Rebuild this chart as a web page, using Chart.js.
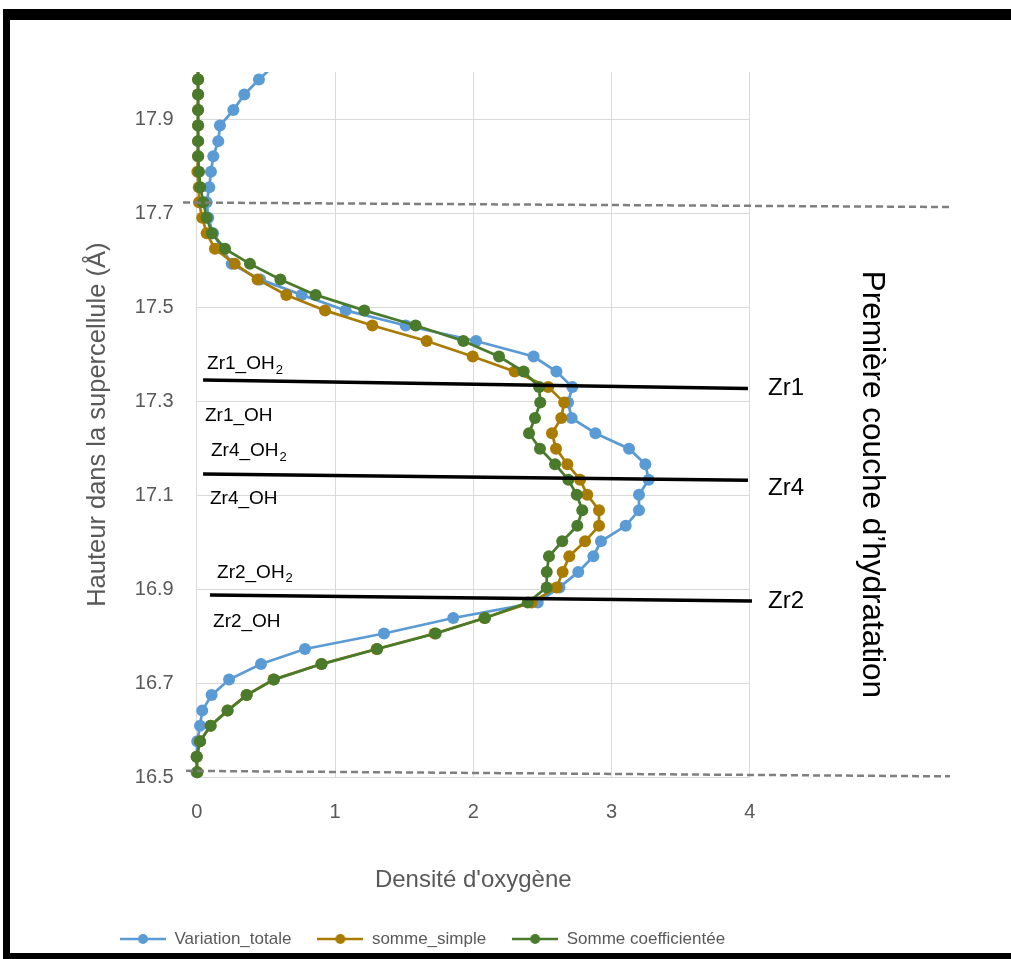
<!DOCTYPE html>
<html lang="fr">
<head>
<meta charset="utf-8">
<title>Densité d'oxygène</title>
<script src="https://cdn.jsdelivr.net/npm/chart.js@4.4.1/dist/chart.umd.min.js"></script>
<style>
  html, body { margin: 0; padding: 0; background: #fff; }
  #wrap { position: relative; width: 1011px; height: 959px; }
</style>
</head>
<body>
<div id="wrap"><canvas id="densityChart" width="1011" height="959"></canvas></div>
<script>
// heights (Å), one per bin, top to bottom
const hauteurs = [
  18.017, 17.984, 17.952, 17.919, 17.886, 17.853, 17.821, 17.788, 17.755, 17.723,
  17.690, 17.657, 17.624, 17.592, 17.559, 17.526, 17.493, 17.461, 17.428, 17.395,
  17.363, 17.330, 17.297, 17.264, 17.232, 17.199, 17.166, 17.133, 17.101, 17.068,
  17.035, 17.002, 16.970, 16.937, 16.904, 16.872, 16.839, 16.806, 16.773, 16.741,
  16.708, 16.675, 16.642, 16.610, 16.577, 16.544, 16.511
];

const variationTotale = [
  0.57, 0.45, 0.344, 0.265, 0.168, 0.156, 0.12, 0.103, 0.091, 0.072,
  0.084, 0.118, 0.183, 0.253, 0.458, 0.759, 1.077, 1.511, 2.02, 2.436,
  2.601, 2.716, 2.685, 2.711, 2.883, 3.126, 3.244, 3.268, 3.198, 3.198,
  3.102, 2.923, 2.868, 2.759, 2.623, 2.466, 1.855, 1.354, 0.783, 0.465,
  0.234, 0.108, 0.04, 0.024, 0.004, 0.0, 0.0
];

const sommeSimple = [
  0.01, 0.01, 0.01, 0.01, 0.01, 0.01, 0.01, 0.005, 0.015, 0.017,
  0.04, 0.072, 0.132, 0.275, 0.44, 0.648, 0.928, 1.27, 1.663, 1.996,
  2.299, 2.542, 2.657, 2.636, 2.569, 2.598, 2.68, 2.772, 2.824, 2.909,
  2.909, 2.808, 2.694, 2.646, 2.603, 2.422, 2.08, 1.72, 1.30, 0.90,
  0.555, 0.36, 0.222, 0.1, 0.024, 0.0, 0.004
];

const sommeCoefficientee = [
  0.01, 0.01, 0.01, 0.01, 0.01, 0.01, 0.01, 0.017, 0.026, 0.048,
  0.072, 0.111, 0.205, 0.385, 0.605, 0.86, 1.212, 1.583, 1.928, 2.186,
  2.364, 2.476, 2.484, 2.446, 2.403, 2.482, 2.591, 2.687, 2.748, 2.788,
  2.752, 2.643, 2.547, 2.531, 2.531, 2.394, 2.085, 1.728, 1.306, 0.904,
  0.559, 0.362, 0.224, 0.101, 0.024, 0.0, 0.004
];

const yTicks = [16.5, 16.7, 16.9, 17.1, 17.3, 17.5, 17.7, 17.9];
const xTicks = [0, 1, 2, 3, 4];

const FONT = "'Liberation Sans', Arial, sans-serif";
const GREY = '#595959';

// annotations, in data units (density, height)
const lignesPointillees = [
  { x0: -0.099, y0: 17.7224, x1: 5.447, y1: 17.7129 },
  { x0: -0.077, y0: 16.5139, x1: 5.447, y1: 16.5022 }
];
const lignesZr = [
  { x0: 0.046, y0: 17.345, x1: 3.986, y1: 17.327 },
  { x0: 0.046, y0: 17.145, x1: 3.986, y1: 17.132 },
  { x0: 0.096, y0: 16.888, x1: 4.015, y1: 16.875 }
];
const etiquettesOH = [
  { texte: 'Zr1_OH', indice: '2', x: 0.075, y: 17.379 },
  { texte: 'Zr1_OH', indice: '', x: 0.060, y: 17.270 },
  { texte: 'Zr4_OH', indice: '2', x: 0.103, y: 17.194 },
  { texte: 'Zr4_OH', indice: '', x: 0.096, y: 17.092 },
  { texte: 'Zr2_OH', indice: '2', x: 0.147, y: 16.935 },
  { texte: 'Zr2_OH', indice: '', x: 0.118, y: 16.832 }
];
const etiquettesZr = [
  { texte: 'Zr1', x: 4.131, y: 17.328 },
  { texte: 'Zr4', x: 4.131, y: 17.115 },
  { texte: 'Zr2', x: 4.131, y: 16.875 }
];
const titreCouche = { texte: 'Première couche d\u2019hydratation', x: 4.88, y: 17.123 };

function toPoints(values) {
  return hauteurs.map((h, i) => ({ x: values[i], y: h }));
}

function makeIcon(color) {
  const c = document.createElement('canvas');
  c.width = 46;
  c.height = 12;
  const g = c.getContext('2d');
  g.strokeStyle = color;
  g.lineWidth = 2.5;
  g.beginPath();
  g.moveTo(0, 6);
  g.lineTo(46, 6);
  g.stroke();
  g.fillStyle = color;
  g.beginPath();
  g.arc(23, 6, 5, 0, Math.PI * 2);
  g.fill();
  return c;
}

function serie(label, values, color) {
  return {
    label: label,
    data: toPoints(values),
    showLine: true,
    borderColor: color,
    backgroundColor: color,
    borderWidth: 2.75,
    pointRadius: 6,
    pointBorderWidth: 0,
    pointBackgroundColor: color,
    tension: 0,
    clip: { left: 8, top: 0, right: 8, bottom: 8 }
  };
}

const annotationsPlugin = {
  id: 'annotations',
  afterDatasetsDraw(chart) {
    const { ctx, scales: { x, y } } = chart;
    const px = v => x.getPixelForValue(v);
    const py = v => y.getPixelForValue(v);
    ctx.save();

    ctx.strokeStyle = '#7f7f7f';
    ctx.lineWidth = 2.5;
    ctx.setLineDash([7, 4]);
    lignesPointillees.forEach(l => {
      ctx.beginPath();
      ctx.moveTo(px(l.x0), py(l.y0));
      ctx.lineTo(px(l.x1), py(l.y1));
      ctx.stroke();
    });

    ctx.setLineDash([]);
    ctx.strokeStyle = '#000';
    ctx.lineWidth = 3.5;
    lignesZr.forEach(l => {
      ctx.beginPath();
      ctx.moveTo(px(l.x0), py(l.y0));
      ctx.lineTo(px(l.x1), py(l.y1));
      ctx.stroke();
    });

    ctx.fillStyle = '#000';
    ctx.textBaseline = 'middle';
    ctx.textAlign = 'left';
    etiquettesOH.forEach(e => {
      ctx.font = '19px ' + FONT;
      ctx.fillText(e.texte, px(e.x), py(e.y));
      if (e.indice) {
        const w = ctx.measureText(e.texte).width;
        ctx.font = '13px ' + FONT;
        ctx.fillText(e.indice, px(e.x) + w + 1, py(e.y) + 6);
      }
    });

    ctx.font = '24px ' + FONT;
    etiquettesZr.forEach(e => {
      ctx.fillText(e.texte, px(e.x), py(e.y));
    });

    ctx.translate(px(titreCouche.x), py(titreCouche.y));
    ctx.rotate(Math.PI / 2);
    ctx.textAlign = 'center';
    ctx.font = '31.5px ' + FONT;
    ctx.fillText(titreCouche.texte, 0, 0);
    ctx.restore();
  }
};

const legendPosPlugin = {
  id: 'legendPos',
  afterLayout(chart) {
    chart.legend.left = 94;
    chart.legend.right = 1011;
  }
};

const cadrePlugin = {
  id: 'cadre',
  afterDraw(chart) {
    const ctx = chart.ctx;
    ctx.save();
    ctx.fillStyle = '#000';
    ctx.fillRect(3, 9, 1008, 11);
    ctx.fillRect(3, 9, 7, 950);
    ctx.fillRect(3, 953, 1008, 6);
    ctx.restore();
  }
};

Chart.defaults.font.family = FONT;
Chart.defaults.color = GREY;

const chart = new Chart(document.getElementById('densityChart').getContext('2d'), {
  type: 'scatter',
  data: {
    // drawn last-to-first, so green sits on top as in the original
    datasets: [
      serie('Somme coefficientée', sommeCoefficientee, '#4a7a2c'),
      serie('somme_simple', sommeSimple, '#a97b00'),
      serie('Variation_totale', variationTotale, '#5b9bd5')
    ]
  },
  options: {
    responsive: false,
    animation: false,
    events: [],
    layout: { padding: { left: 0, right: 261.1, top: 72, bottom: 1.5 } },
    scales: {
      x: {
        type: 'linear',
        min: 0,
        max: 4,
        afterBuildTicks: (scale) => { scale.ticks = xTicks.map(v => ({ value: v })); },
        afterFit: (scale) => { scale.height = 127.1; },
        ticks: { padding: 23, font: { size: 20 }, color: GREY },
        grid: { color: '#d9d9d9', drawTicks: false },
        border: { display: false },
        title: {
          display: true,
          text: "Densité d'oxygène",
          font: { size: 24 },
          color: GREY,
          padding: { top: 0, bottom: 10 }
        }
      },
      y: {
        type: 'linear',
        min: 16.5,
        max: 18.0,
        afterBuildTicks: (scale) => { scale.ticks = yTicks.map(v => ({ value: v })); },
        afterFit: (scale) => { scale.width = 196.7; },
        ticks: {
          padding: 23,
          font: { size: 20 },
          color: GREY,
          callback: (v) => Number(v).toFixed(1)
        },
        grid: { color: '#d9d9d9', drawTicks: false },
        border: { display: false },
        title: {
          display: true,
          text: 'Hauteur dans la supercellule (Å)',
          font: { size: 25.5 },
          color: GREY,
          padding: { top: 82.7, bottom: 0 }
        }
      }
    },
    plugins: {
      tooltip: { enabled: false },
      legend: {
        position: 'bottom',
        align: 'start',
        reverse: true,
        labels: {
          usePointStyle: true,
          pointStyleWidth: 46,
          padding: 26,
          color: GREY,
          font: { size: 17 },
          generateLabels(chart) {
            const items = Chart.defaults.plugins.legend.labels.generateLabels(chart);
            items.forEach(it => {
              it.pointStyle = makeIcon(chart.data.datasets[it.datasetIndex].borderColor);
            });
            return items;
          }
        }
      }
    }
  },
  plugins: [annotationsPlugin, legendPosPlugin, cadrePlugin]
});
</script>
</body>
</html>
